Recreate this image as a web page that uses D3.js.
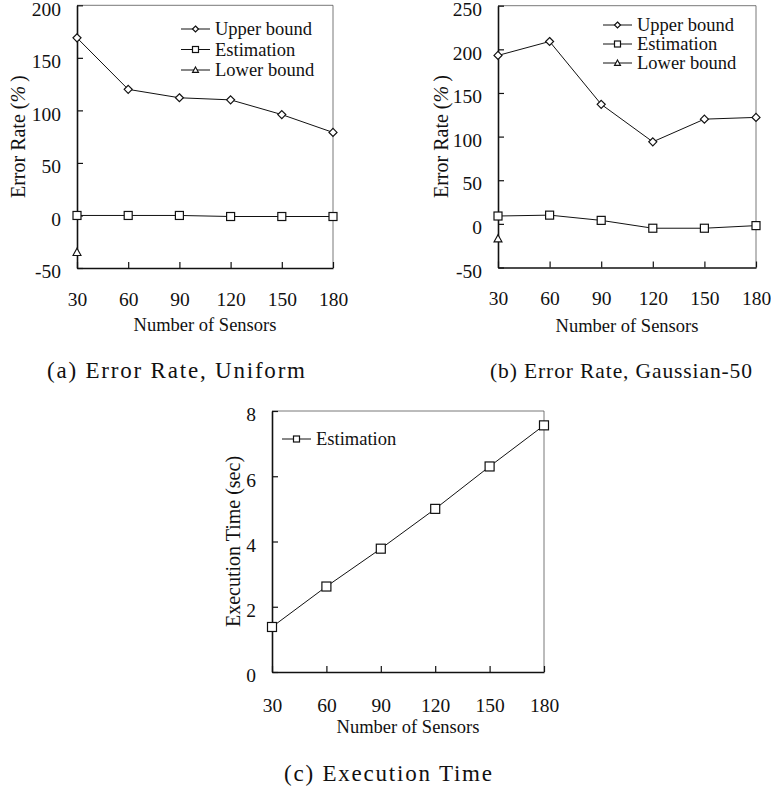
<!DOCTYPE html>
<html>
<head>
<meta charset="utf-8">
<script src="https://cdn.jsdelivr.net/npm/d3@7"></script>
<style>
  body { margin: 0; background: #fff; }
  svg text { font-family: "Liberation Serif", "Times New Roman", serif; fill: #111; }
</style>
</head>
<body>
<div id="my_dataviz"></div>
<script>
// data
const sensors = [30, 60, 90, 120, 150, 180];

const uniformUpper = [169, 120, 112, 110, 96, 79];
const uniformEst = [0, 0, 0, -1, -1, -1];
const uniformLower = [-35];

const gaussUpper = [193, 209, 137, 94, 120, 122];
const gaussEst = [9, 10, 4, -5, -5, -2];
const gaussLower = [-17];

const execEst = [1.38, 2.62, 3.78, 5.0, 6.3, 7.56];

const errorTicksA = [-50, 0, 50, 100, 150, 200];
const errorTicksB = [-50, 0, 50, 100, 150, 200, 250];
const timeTicks = [0, 2, 4, 6, 8];

const svg = d3.select("#my_dataviz")
    .append("svg")
    .attr("width", 771)
    .attr("height", 790);

// marker shapes
function marker(g, type, cx, cy, s) {
    if (type === "square") {
        g.append("rect")
            .attr("x", cx - s).attr("y", cy - s)
            .attr("width", 2 * s).attr("height", 2 * s)
            .attr("fill", "#fff").attr("stroke", "#111").attr("stroke-width", 1.2);
    } else if (type === "diamond") {
        g.append("path")
            .attr("d", `M${cx},${cy - s}L${cx + s},${cy}L${cx},${cy + s}L${cx - s},${cy}Z`)
            .attr("fill", "#fff").attr("stroke", "#111").attr("stroke-width", 1.2);
    } else {
        g.append("path")
            .attr("d", `M${cx},${cy - s}L${cx + s},${cy + s * 0.8}L${cx - s},${cy + s * 0.8}Z`)
            .attr("fill", "#fff").attr("stroke", "#111").attr("stroke-width", 1.1);
    }
}

function drawPanel(p) {
    const x = d3.scaleLinear().domain([30, 180]).range([p.left, p.right]);
    const y = d3.scaleLinear().domain(p.yDomain).range([p.bottom, p.top]);
    const g = svg.append("g");

    // top & right frame
    g.append("line").attr("x1", p.left).attr("x2", p.right).attr("y1", p.top).attr("y2", p.top)
        .attr("stroke", "#555").attr("stroke-width", 0.8);
    g.append("line").attr("x1", p.right).attr("x2", p.right).attr("y1", p.top).attr("y2", p.bottom)
        .attr("stroke", "#555").attr("stroke-width", 0.8);

    // X axis
    const xa = g.append("g")
        .attr("transform", `translate(0, ${p.bottom})`)
        .call(d3.axisBottom(x).tickValues(sensors).tickSize(-6).tickSizeOuter(0).tickPadding(p.xPad));
    // Y axis
    const ya = g.append("g")
        .attr("transform", `translate(${p.left}, 0)`)
        .call(d3.axisLeft(y).tickValues(p.yTicks).tickFormat(d => String(d))
            .tickSize(-6).tickSizeOuter(0).tickPadding(16));
    ya.selectAll(".tick text").attr("dy", "0.5em");
    [xa, ya].forEach(a => {
        a.select(".domain").attr("stroke", "#111").attr("stroke-width", 1.6);
        a.selectAll(".tick line").attr("stroke", "#111").attr("stroke-width", 1.2);
        a.selectAll("text").style("font-size", "19.5px")
            .style("font-family", '"Liberation Serif", serif').attr("fill", "#111");
    });

    // axis titles
    g.append("text")
        .attr("x", (p.left + p.right) / 2).attr("y", p.bottom + p.xTitle)
        .attr("text-anchor", "middle").attr("dy", "0.35em")
        .style("font-size", "18.5px").text("Number of Sensors");
    const yt = g.append("text")
        .attr("transform", `translate(${p.left - p.yTitle}, ${(p.top + p.bottom) / 2}) rotate(-90)`)
        .attr("text-anchor", "middle").attr("dy", "0.35em")
        .style("font-size", "20px");
    yt.append("tspan").text(p.yLabel[0]);
    if (p.yLabel[1]) {
        yt.append("tspan").style("font-style", "italic").text(p.yLabel[1]);
        yt.append("tspan").text(p.yLabel[2]);
    }

    // series
    const line = d3.line().x((d, i) => x(sensors[i])).y(d => y(d));
    p.series.forEach(s => {
        g.append("path").datum(s.values)
            .attr("d", line).attr("fill", "none")
            .attr("stroke", "#111").attr("stroke-width", 1);
        s.values.forEach((v, i) => marker(g, s.shape, x(sensors[i]), y(v), s.size));
    });

    // legend
    p.series.forEach((s, i) => {
        const ly = p.legY + i * p.legStep;
        g.append("line").attr("x1", p.legX).attr("x2", p.legX + 29)
            .attr("y1", ly).attr("y2", ly).attr("stroke", "#111").attr("stroke-width", 1);
        marker(g, s.shape, p.legX + 14.5, ly, 3);
        g.append("text").attr("x", p.legX + 34).attr("y", ly).attr("dy", "0.33em")
            .style("font-size", "18.5px").text(s.name);
    });

    // caption
    svg.append("text")
        .attr("x", p.capX).attr("y", p.capY).attr("dy", "0.35em")
        .attr("text-anchor", "middle")
        .attr("textLength", p.capW).attr("lengthAdjust", "spacing")
        .style("font-size", p.capSize + "px")
        .text(p.caption);
}

drawPanel({
    left: 77, right: 333, top: 5.3, bottom: 268,
    yDomain: [-50, 200], yTicks: errorTicksA,
    xPad: 24, xTitle: 57, yTitle: 59, yLabel: ["Error Rate (", "%", "\u2009)"],
    legX: 181, legY: 29, legStep: 20.5,
    capX: 176, capY: 370, capW: 258, capSize: 23, caption: "(a) Error Rate, Uniform",
    series: [
        { name: "Upper bound", shape: "diamond", size: 4, values: uniformUpper },
        { name: "Estimation", shape: "square", size: 4, values: uniformEst },
        { name: "Lower bound", shape: "triangle", size: 4, values: uniformLower }
    ]
});

drawPanel({
    left: 498, right: 756, top: 5.7, bottom: 267.5,
    yDomain: [-50, 250], yTicks: errorTicksB,
    xPad: 24, xTitle: 58, yTitle: 57, yLabel: ["Error Rate (", "%", "\u2009)"],
    legX: 603, legY: 25, legStep: 19,
    capX: 621, capY: 370, capW: 262, capSize: 21.5, caption: "(b) Error Rate, Gaussian-50",
    series: [
        { name: "Upper bound", shape: "diamond", size: 4, values: gaussUpper },
        { name: "Estimation", shape: "square", size: 4, values: gaussEst },
        { name: "Lower bound", shape: "triangle", size: 4, values: gaussLower }
    ]
});

drawPanel({
    left: 272, right: 544, top: 411, bottom: 672,
    yDomain: [0, 8], yTicks: timeTicks,
    xPad: 26, xTitle: 55, yTitle: 39, yLabel: ["Execution Time (sec)"],
    legX: 282, legY: 439, legStep: 20,
    capX: 388, capY: 773, capW: 208, capSize: 23, caption: "(c) Execution Time",
    series: [
        { name: "Estimation", shape: "square", size: 4.5, values: execEst }
    ]
});
</script>
</body>
</html>
